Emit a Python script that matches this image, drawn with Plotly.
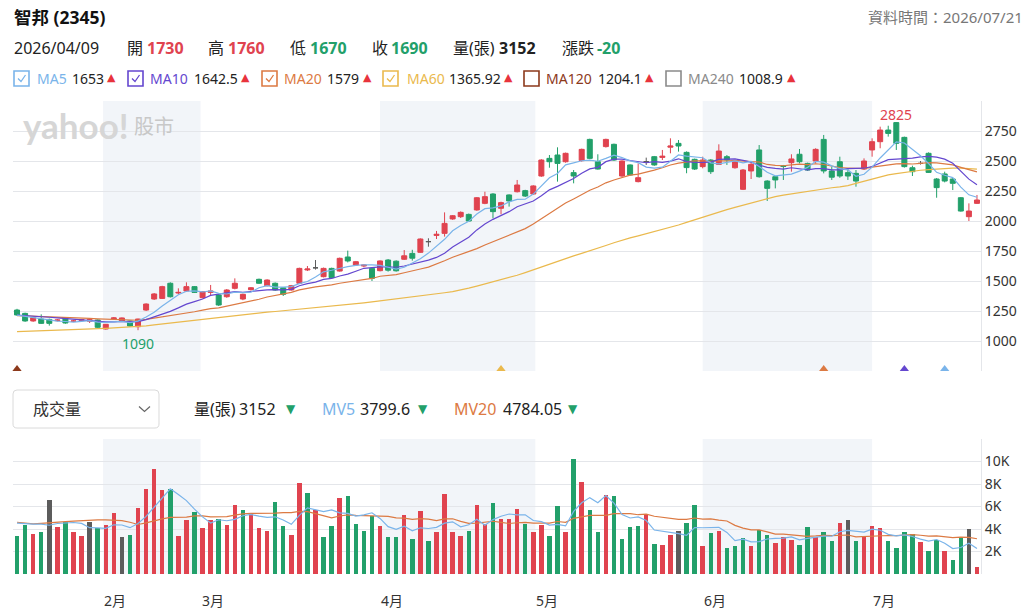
import plotly.graph_objects as go
import pandas as pd

# ---------------- data ----------------
dates = [
    "01/16", "01/19", "01/20", "01/21", "01/22", "01/23", "01/26", "01/27", "01/28", "01/29", "01/30",
    "02/02", "02/03", "02/04", "02/05", "02/06", "02/09", "02/10", "02/11", "02/23", "02/24", "02/25", "02/26",
    "03/02", "03/03", "03/04", "03/05", "03/06", "03/09", "03/10", "03/11", "03/12", "03/13",
    "03/16", "03/17", "03/18", "03/19", "03/20", "03/23", "03/24", "03/25", "03/26", "03/27", "03/30", "03/31",
    "04/01", "04/02", "04/07", "04/08", "04/09", "04/10", "04/13", "04/14", "04/15", "04/16", "04/17",
    "04/20", "04/21", "04/22", "04/23", "04/24", "04/27", "04/28", "04/29", "04/30",
    "05/04", "05/05", "05/06", "05/07", "05/08", "05/11", "05/12", "05/13", "05/14", "05/15",
    "05/18", "05/19", "05/20", "05/21", "05/22", "05/25", "05/26", "05/27", "05/28", "05/29",
    "06/01", "06/02", "06/03", "06/04", "06/05", "06/08", "06/09", "06/10", "06/11", "06/12",
    "06/15", "06/16", "06/17", "06/18", "06/22", "06/23", "06/24", "06/25", "06/26", "06/29", "06/30",
    "07/01", "07/02", "07/03", "07/06", "07/07", "07/08", "07/09", "07/10", "07/13", "07/14", "07/15",
    "07/16", "07/17", "07/20",
]

opens = [1258, 1230, 1167, 1183, 1180, 1170, 1189, 1164, 1172, 1165, 1175, 1100, 1185, 1165, 1167, 1119,
         1258, 1350, 1355, 1481, 1400, 1417, 1453, 1361, 1405, 1383, 1369, 1439, 1350, 1428, 1514, 1461,
         1481, 1444, 1425, 1481, 1592, 1610, 1536, 1605, 1583, 1700, 1633, 1625, 1605, 1586, 1675, 1665,
         1681, 1730, 1739, 1828, 1880, 1897, 2017, 2036, 2055, 2092, 2147, 2225, 2106, 2217, 2244, 2253,
         2225, 2375, 2522, 2550, 2494, 2403, 2503, 2680, 2494, 2620, 2639, 2375, 2467, 2328, 2494, 2536,
         2530, 2615, 2647, 2572, 2514, 2453, 2508, 2472, 2536, 2444, 2264, 2417, 2592, 2333, 2369, 2460,
         2486, 2556, 2480, 2500, 2680, 2417, 2494, 2403, 2397, 2433, 2592, 2661, 2758, 2820, 2697, 2444,
         2480, 2564, 2350, 2392, 2350, 2194, 2036, 2147]
highs = [1268, 1236, 1200, 1222, 1186, 1183, 1192, 1175, 1183, 1189, 1180, 1142, 1200, 1196, 1170, 1186,
         1314, 1400, 1460, 1489, 1439, 1489, 1458, 1415, 1467, 1390, 1433, 1522, 1395, 1450, 1520, 1514,
         1488, 1450, 1467, 1611, 1625, 1675, 1612, 1611, 1695, 1753, 1667, 1640, 1610, 1672, 1683, 1672,
         1758, 1760, 1855, 1856, 1917, 2072, 2050, 2080, 2062, 2200, 2244, 2232, 2161, 2222, 2342, 2260,
         2298, 2515, 2550, 2614, 2570, 2425, 2603, 2686, 2556, 2686, 2645, 2505, 2472, 2480, 2528, 2542,
         2592, 2689, 2675, 2580, 2520, 2536, 2515, 2639, 2550, 2500, 2433, 2494, 2633, 2340, 2375, 2467,
         2556, 2600, 2486, 2606, 2717, 2453, 2536, 2433, 2425, 2522, 2689, 2786, 2794, 2825, 2703, 2461,
         2500, 2572, 2358, 2411, 2358, 2200, 2147, 2217]
lows = [1210, 1160, 1160, 1142, 1128, 1163, 1144, 1158, 1167, 1150, 1108, 1095, 1178, 1160, 1118, 1090,
        1250, 1342, 1350, 1362, 1389, 1410, 1400, 1355, 1383, 1292, 1360, 1430, 1340, 1420, 1475, 1455,
        1418, 1375, 1420, 1475, 1583, 1595, 1530, 1520, 1578, 1655, 1625, 1615, 1500, 1580, 1578, 1578,
        1675, 1670, 1735, 1786, 1850, 1870, 2010, 2025, 1993, 2085, 2140, 2022, 2056, 2120, 2238, 2200,
        2218, 2368, 2444, 2328, 2486, 2314, 2495, 2515, 2428, 2612, 2500, 2368, 2378, 2322, 2467, 2460,
        2508, 2564, 2578, 2398, 2425, 2439, 2392, 2467, 2467, 2436, 2258, 2350, 2361, 2167, 2272, 2342,
        2411, 2480, 2418, 2480, 2397, 2342, 2360, 2342, 2286, 2425, 2536, 2606, 2703, 2592, 2445, 2375,
        2470, 2400, 2194, 2322, 2258, 2078, 2000, 2142]
closes = [1217, 1167, 1194, 1147, 1147, 1175, 1150, 1167, 1178, 1178, 1114, 1139, 1192, 1192, 1125, 1183,
          1308, 1392, 1453, 1369, 1405, 1453, 1405, 1411, 1417, 1300, 1425, 1481, 1389, 1444, 1481, 1508,
          1425, 1389, 1461, 1605, 1600, 1610, 1605, 1528, 1689, 1667, 1661, 1633, 1522, 1667, 1590, 1585,
          1710, 1690, 1850, 1828, 1889, 1980, 2044, 2072, 2000, 2194, 2203, 2078, 2153, 2167, 2300, 2208,
          2292, 2508, 2494, 2480, 2564, 2375, 2597, 2522, 2433, 2680, 2508, 2500, 2383, 2361, 2494, 2467,
          2540, 2625, 2625, 2445, 2433, 2508, 2411, 2583, 2508, 2494, 2425, 2472, 2369, 2272, 2342, 2455,
          2517, 2494, 2425, 2597, 2417, 2365, 2375, 2375, 2333, 2500, 2661, 2758, 2730, 2647, 2453, 2411,
          2480, 2405, 2278, 2333, 2314, 2083, 2083, 2175]
volumes = [3386, 4366, 3564, 3772, 6593, 4158, 4604, 3772, 3386, 4663, 4069, 4366, 5405, 3267, 3475, 5910,
           7574, 9356, 7484, 7574, 3386, 4811, 5554, 4069, 4811, 4871, 4366, 6148, 5702, 5405, 4069, 3861,
           6386, 4277, 3475, 8078, 7187, 5702, 3267, 4277, 6772, 6950, 4455, 3861, 5168, 4277, 3267, 3267,
           5257, 3152, 5584, 2970, 3772, 7098, 3772, 3386, 3861, 6178, 4455, 6296, 4871, 4871, 5792, 4455,
           3772, 4366, 3386, 6059, 3772, 10247, 8168, 5702, 3772, 6980, 6890, 3089, 4158, 4277, 5346, 2673,
           2584, 3475, 3861, 4574, 6148, 2495, 3683, 3861, 2287, 2495, 3178, 2495, 3920, 3475, 2792, 3267,
           3029, 2584, 4188, 3267, 3772, 2970, 4574, 4811, 2970, 3326, 4277, 4069, 2970, 2287, 3772, 3564,
           2881, 2079, 3029, 2079, 1247, 3326, 3980, 653]

# moving-average values before a full window is available
ma5_head = [1215, 1205, 1198, 1190]
ma10_head = [1215, 1212, 1208, 1203, 1198, 1192, 1186, 1180, 1175]
ma20_head = [1212, 1210, 1208, 1205, 1202, 1199, 1196, 1193, 1190, 1188, 1185, 1182, 1180, 1178, 1175,
             1173, 1180, 1190, 1199]
ma60 = [1078, 1080, 1082, 1085, 1087, 1090, 1092, 1095, 1097, 1100, 1103, 1106, 1109, 1112, 1115, 1119,
        1126, 1134, 1142, 1150, 1158, 1166, 1174, 1182, 1190, 1197, 1204, 1212, 1219, 1226, 1233, 1240,
        1246, 1252, 1258, 1264, 1270, 1277, 1284, 1292, 1300, 1306, 1312, 1318, 1326, 1334, 1341, 1348,
        1356, 1366, 1375, 1384, 1393, 1402, 1411, 1424, 1440, 1457, 1474, 1491, 1509, 1528, 1548, 1570,
        1594, 1618, 1642, 1666, 1688, 1709, 1730, 1750, 1773, 1796, 1819, 1842, 1859, 1876, 1893, 1911,
        1930, 1949, 1967, 1989, 2011, 2033, 2055, 2075, 2095, 2114, 2133, 2150, 2168, 2186, 2203, 2215,
        2226, 2238, 2250, 2259, 2268, 2277, 2285, 2295, 2314, 2333, 2350, 2367, 2385, 2395, 2405, 2417,
        2423, 2428, 2434, 2439, 2440, 2440, 2437, 2433]
mv5_head = [4520, 4450, 4430, 4430]
mv20_head = [4600, 4530, 4460, 4500, 4570, 4610, 4660, 4700, 4750, 4810, 4820, 4820, 4780, 4750, 4600,
             4400, 4550, 4750, 4900]

# header / legend texts
stock_name = "智邦 (2345)"
data_time = "資料時間：2026/07/21"
sel_date = "04/09"
ma_names = ["MA5", "MA10", "MA20", "MA60", "MA120", "MA240"]
ma_values = ["1653", "1642.5", "1579", "1365.92", "1204.1", "1008.9"]
ma_checked = [True, True, True, True, False, False]
vol_names = ["量(張)", "MV5", "MV20"]
vol_values = ["3152", "3799.6", "4784.05"]
month_names = {2: "2月", 3: "3月", 4: "4月", 5: "5月", 6: "6月", 7: "7月"}
shaded_months = [2, 4, 6]
price_ticks = [750, 1000, 1250, 1500, 1750, 2000, 2250, 2500, 2750, 3000]
vol_ticks = [0, 2000, 4000, 6000, 8000, 10000, 12000]

assert len(dates) == len(opens) == len(highs) == len(lows) == len(closes) == len(volumes) == len(ma60)

# ---------------- derived ----------------
N = len(dates)
xs = list(range(N))
dts = pd.to_datetime(["2026/" + d for d in dates])


def rolling(vals, n, head):
    s = pd.Series(vals, dtype=float).rolling(n).mean().tolist()
    s[:len(head)] = head
    return s


ma5 = rolling(closes, 5, ma5_head)
ma10 = rolling(closes, 10, ma10_head)
ma20 = rolling(closes, 20, ma20_head)
mv5 = rolling(volumes, 5, mv5_head)
mv20 = rolling(volumes, 20, mv20_head)


def month_pos(m):
    t = pd.Timestamp(2026, m, 1)
    for i in range(1, N):
        if dts[i - 1] < t <= dts[i]:
            return (i - 1) + (t - dts[i - 1]) / (dts[i] - dts[i - 1])
    return N - 0.5


# ---------------- style ----------------
FONT = "Noto Sans, Noto Sans CJK TC, sans-serif"
RED = "#e0434f"
GREEN = "#22a06a"
GRAY = "#5c5c5c"
GRID = "#e4e6ea"
SHADE = "#f2f5f9"
TXT = "#222222"
C = {"MA5": "#7ab4ea", "MA10": "#6447cf", "MA20": "#dc7a43", "MA60": "#eab94d",
     "MA120": "#8c391b", "MA240": "#8a8a8a"}

W, H = 1035, 612
PL, PR, PT, PB = 13, 981, 101, 574


def px(x):
    return (x - PL) / (PR - PL)


def py(y):
    return (PB - y) / (PB - PT)


fig = go.Figure()

# candles split by body direction
groups = [
    ([i for i in xs if closes[i] > opens[i]], RED),
    ([i for i in xs if closes[i] < opens[i]], GREEN),
    ([i for i in xs if closes[i] == opens[i]], GRAY),
]
for idx, col in groups:
    fig.add_trace(go.Candlestick(
        x=idx, open=[opens[i] for i in idx], high=[highs[i] for i in idx],
        low=[lows[i] for i in idx], close=[closes[i] for i in idx],
        increasing=dict(line=dict(color=col, width=1), fillcolor=col),
        decreasing=dict(line=dict(color=col, width=1), fillcolor=col),
        whiskerwidth=0, xaxis="x", yaxis="y", showlegend=False, hoverinfo="skip"))

for name, vals in (("MA60", ma60), ("MA20", ma20), ("MA10", ma10), ("MA5", ma5)):
    fig.add_trace(go.Scatter(x=xs, y=vals, mode="lines", line=dict(color=C[name], width=1.2),
                             xaxis="x", yaxis="y", hoverinfo="skip", showlegend=False))

# window-start markers of each MA for the last bar
tri_periods = [("MA5", 5), ("MA10", 10), ("MA20", 20), ("MA60", 60), ("MA120", 120)]
tri_x = [N - p for _, p in tri_periods if N - p >= 0]
tri_c = [C[n] for n, p in tri_periods if N - p >= 0]
ymin, ymax = price_ticks[0], price_ticks[-1]
fig.add_trace(go.Scatter(x=tri_x, y=[ymin + (ymax - ymin) * 0.0075] * len(tri_x), mode="markers",
                         marker=dict(symbol="triangle-up", size=8, color=tri_c, line=dict(width=0)),
                         xaxis="x", yaxis="y", cliponaxis=False, hoverinfo="skip", showlegend=False))

# volume
vcol = []
for i in xs:
    ref = closes[i - 1] if i > 0 else opens[i]
    vcol.append(RED if closes[i] > ref else (GREEN if closes[i] < ref else GRAY))
fig.add_trace(go.Bar(x=xs, y=volumes, marker=dict(color=vcol, line=dict(width=0)), width=0.56,
                     xaxis="x2", yaxis="y2", hoverinfo="skip", showlegend=False))
fig.add_trace(go.Scatter(x=xs, y=mv20, mode="lines", line=dict(color=C["MA20"], width=1.2),
                         xaxis="x2", yaxis="y2", hoverinfo="skip", showlegend=False))
fig.add_trace(go.Scatter(x=xs, y=mv5, mode="lines", line=dict(color=C["MA5"], width=1.2),
                         xaxis="x2", yaxis="y2", hoverinfo="skip", showlegend=False))

shapes = []
ann = []

# month shading + labels
for m in shaded_months:
    x0, x1 = month_pos(m), month_pos(m + 1)
    for xr, yr in (("x", "y domain"), ("x2", "y2 domain")):
        shapes.append(dict(type="rect", xref=xr, yref=yr, x0=x0, x1=x1, y0=0, y1=1,
                           fillcolor=SHADE, line=dict(width=0), layer="below"))
for m, lab in month_names.items():
    ann.append(dict(xref="x2", yref="paper", x=month_pos(m), y=py(600), text=lab, showarrow=False,
                    xanchor="left", yanchor="middle", xshift=-1,
                    font=dict(family=FONT, size=14, color="#333333")))

# extreme labels
lo_i = min(xs, key=lambda i: lows[i])
hi_i = max(xs, key=lambda i: highs[i])
ann.append(dict(xref="x", yref="y", x=lo_i, y=lows[lo_i], text=str(lows[lo_i]), showarrow=False,
                yanchor="middle", yshift=-13, font=dict(family=FONT, size=14, color=GREEN)))
ann.append(dict(xref="x", yref="y", x=hi_i, y=highs[hi_i], text=str(highs[hi_i]), showarrow=False,
                yanchor="middle", yshift=8, font=dict(family=FONT, size=14, color=RED)))


def T(xp, yp, s, color=TXT, size=15, anchor="left", family=FONT):
    ann.append(dict(xref="paper", yref="paper", x=px(xp), y=py(yp), text=s, showarrow=False,
                    xanchor=anchor, yanchor="middle", xshift=-1 if anchor == "left" else 0,
                    font=dict(family=family, size=size, color=color)))


# watermark
T(22, 125, "<b>yahoo!</b>", "#d6d6d6", 35, family="Lato, Noto Sans, sans-serif")
T(133, 126, "股市", "#c8c8c8", 20)

# header
T(13, 17, "<b>%s</b>" % stock_name, "#111111", 17.5)
T(1025, 17, data_time, "#777777", 15, anchor="right")

s = dates.index(sel_date)
chg = closes[s] - closes[s - 1]
prev = closes[s - 1]


def updown(v):
    return RED if v > prev else (GREEN if v < prev else TXT)


T(13, 48, "2026/" + sel_date, TXT, 16)
row2 = [(126, "開", 146, opens[s]), (207, "高", 227, highs[s]), (289, "低", 309, lows[s]),
        (371, "收", 390, closes[s])]
for lx, lab, vx, v in row2:
    T(lx, 48, lab, TXT, 16)
    T(vx, 48, "<b>%d</b>" % v, updown(v), 16)
T(452, 48, "量(張)", TXT, 16)
T(498, 48, "<b>%d</b>" % volumes[s], TXT, 16)
T(561, 48, "漲跌", TXT, 16)
T(596, 48, "<b>%d</b>" % chg, RED if chg > 0 else GREEN, 16)

# MA legend row
leg_pos = [(14, 36, 71, 106), (128, 149, 193, 240), (262, 283, 326, 362),
           (383, 406, 448, 503), (524, 545, 597, 644), (666, 687, 738, 786)]
for (bx, lx, vx, tx), name, val, chk in zip(leg_pos, ma_names, ma_values, ma_checked):
    col = C[name]
    shapes.append(dict(type="rect", xref="paper", yref="paper", x0=px(bx), x1=px(bx + 15),
                       y0=py(86), y1=py(71), line=dict(color=col, width=1.6), fillcolor="white"))
    if chk:
        shapes.append(dict(type="path", xref="paper", yref="paper",
                           path="M %f,%f L %f,%f L %f,%f" % (px(bx + 4), py(78.5), px(bx + 7), py(81.5),
                                                             px(bx + 11.5), py(75)),
                           line=dict(color=col, width=1.3)))
    T(lx, 78.5, name, col, 14)
    T(vx, 78.5, val, TXT, 14)
    T(tx, 78, "▲", "#e8333c", 11, family="DejaVu Sans")

# volume header row
bx0, bx1, by0, by1, r = 13, 159, 390, 428, 4
dd = ("M %f,%f L %f,%f Q %f,%f %f,%f L %f,%f Q %f,%f %f,%f L %f,%f Q %f,%f %f,%f L %f,%f Q %f,%f %f,%f Z" % (
    px(bx0 + r), py(by0), px(bx1 - r), py(by0), px(bx1), py(by0), px(bx1), py(by0 + r),
    px(bx1), py(by1 - r), px(bx1), py(by1), px(bx1 - r), py(by1),
    px(bx0 + r), py(by1), px(bx0), py(by1), px(bx0), py(by1 - r),
    px(bx0), py(by0 + r), px(bx0), py(by0), px(bx0 + r), py(by0)))
shapes.append(dict(type="path", xref="paper", yref="paper", path=dd,
                   line=dict(color="#dadada", width=1), fillcolor="white"))
shapes.append(dict(type="path", xref="paper", yref="paper",
                   path="M %f,%f L %f,%f L %f,%f" % (px(139), py(406.5), px(144.5), py(411.5),
                                                     px(150), py(406.5)),
                   line=dict(color="#666666", width=1.2)))
T(32, 409, "成交量", "#333333", 16)
vpos = [(193, 238, 285), (321, 359, 417), (453, 502, 567)]
vcols = [TXT, C["MA5"], C["MA20"]]
for (lx, vx, tx), name, val, col in zip(vpos, vol_names, vol_values, vcols):
    T(lx, 409, name, col, 16)
    T(vx, 409, val, TXT, 16)
    T(tx, 409, "▼", GREEN, 12, family="DejaVu Sans")

price_text = ["" if (v == price_ticks[0] or v == price_ticks[-1]) else str(v) for v in price_ticks]
vol_text = ["" if (v == vol_ticks[0] or v == vol_ticks[-1]) else "%dK" % (v // 1000) for v in vol_ticks]

fig.update_layout(
    width=W, height=H, margin=dict(l=PL, r=W - PR, t=PT, b=H - PB, pad=0),
    paper_bgcolor="white", plot_bgcolor="white", template="plotly_white",
    showlegend=False, hovermode=False, boxgap=0.38, boxgroupgap=0, bargap=0,
    font=dict(family=FONT, color=TXT),
    xaxis=dict(domain=[0, 1], range=[-0.5, N - 0.5], anchor="y", showticklabels=False, showgrid=False,
               zeroline=False, showline=False, ticks="", rangeslider=dict(visible=False), fixedrange=True),
    yaxis=dict(domain=[py(371), 1], range=[ymin, ymax], side="right", tickvals=price_ticks,
               ticktext=price_text, gridcolor=GRID, gridwidth=1, showline=True, linecolor=GRID,
               ticks="", zeroline=False, tickfont=dict(family=FONT, size=14, color="#333333"),
               fixedrange=True),
    xaxis2=dict(domain=[0, 1], range=[-0.5, N - 0.5], anchor="y2", matches="x", showticklabels=False,
                showgrid=False, zeroline=False, showline=False, ticks="", fixedrange=True),
    yaxis2=dict(domain=[0, py(439)], range=[vol_ticks[0], vol_ticks[-1]], side="right",
                tickvals=vol_ticks, ticktext=vol_text, gridcolor=GRID, gridwidth=1, showline=True,
                linecolor=GRID, ticks="", zeroline=False,
                tickfont=dict(family=FONT, size=14, color="#333333"), fixedrange=True),
    shapes=shapes, annotations=ann,
)

fig.write_html("out.html")
